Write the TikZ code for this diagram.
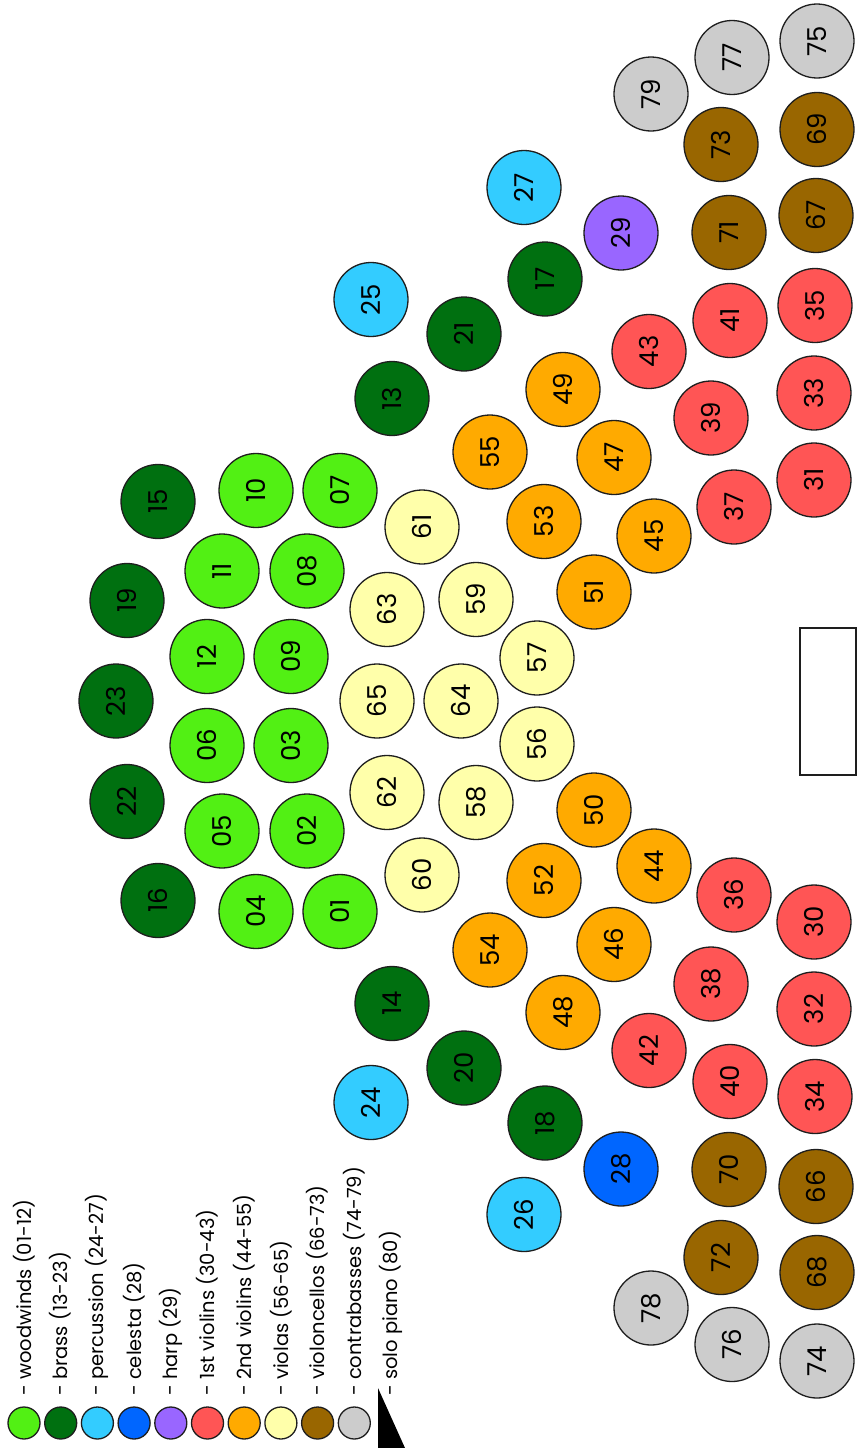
\documentclass[tikz,border=0pt]{standalone}
\usepackage{fontspec}
\setmainfont{Poppins}
\definecolor{cww}{RGB}{82,240,20}
\definecolor{cbr}{RGB}{0,112,16}
\definecolor{cpc}{RGB}{51,204,255}
\definecolor{cce}{RGB}{0,102,255}
\definecolor{chp}{RGB}{153,102,255}
\definecolor{cva}{RGB}{255,85,85}
\definecolor{cvb}{RGB}{255,170,0}
\definecolor{cvl}{RGB}{255,255,170}
\definecolor{cvc}{RGB}{153,102,0}
\definecolor{ccb}{RGB}{204,204,204}
\definecolor{edge}{RGB}{30,30,30}
\begin{document}
\begin{tikzpicture}[x=1pt,y=-1pt,
  seat/.style={circle, draw=edge, line width=1.3pt, minimum size=74pt, inner sep=0pt,
    rotate=90, font=\fontsize{26}{26}\selectfont, text=black},
  legc/.style={circle, draw=edge, line width=1.3pt, minimum size=32pt, inner sep=0pt},
  legt/.style={rotate=90, anchor=west, inner sep=0pt, font=\fontsize{19.5}{20}\selectfont, text=black},
  ww/.style={fill=cww}, br/.style={fill=cbr}, pc/.style={fill=cpc}, ce/.style={fill=cce},
  hp/.style={fill=chp}, va/.style={fill=cva}, vb/.style={fill=cvb}, vl/.style={fill=cvl},
  vc/.style={fill=cvc}, cb/.style={fill=ccb}]
\useasboundingbox (0,0) rectangle (857,1448);
% seats
\foreach \n/\x/\y/\s in {
  01/340/911.5/ww, 02/307/831/ww, 03/291/745.5/ww, 04/256/911.5/ww, 05/222/831/ww, 06/207/745.5/ww,
  07/340/490.5/ww, 08/307/571/ww, 09/291/656.5/ww, 10/256/490.5/ww, 11/222/571/ww, 12/207/656.5/ww,
  13/392/398.5/br, 14/392/1003.5/br, 15/158/501.5/br, 16/158/900.5/br, 17/545/279/br, 18/545/1123/br,
  19/127/600.5/br, 20/464/1068/br, 21/464/334/br, 22/127/801.5/br, 23/116/701/br,
  24/371/1102.5/pc, 25/371/299.5/pc, 26/524/1214.5/pc, 27/524/187.5/pc,
  28/621/1169/ce, 29/621/233/hp,
  30/814/922/va, 31/814/480/va, 32/814/1009/va, 33/814/393/va, 34/815/1096.5/va, 35/815/305.5/va,
  36/734/895/va, 37/734/507/va, 38/711/984/va, 39/711/418/va, 40/730/1081.5/va, 41/730/320.5/va,
  42/649/1050.5/va, 43/649/351.5/va,
  44/654/866/vb, 45/654/536/vb, 46/614/944.5/vb, 47/614/457.5/vb, 48/563/1012.5/vb, 49/563/389.5/vb,
  50/594/810/vb, 51/594/592/vb, 52/544/880.5/vb, 53/544/521.5/vb, 54/490/950/vb, 55/490/452/vb,
  56/537/744/vl, 57/537/658/vl, 58/476/802.5/vl, 59/476/599.5/vl, 60/422/875/vl, 61/422/527/vl,
  62/387/792.5/vl, 63/387/609.5/vl, 64/461/701/vl, 65/377/701/vl,
  66/816/1186.5/vc, 67/816/215.5/vc, 68/817/1272.5/vc, 69/817/129.5/vc, 70/729/1169.5/vc,
  71/729/232.5/vc, 72/721/1257.5/vc, 73/721/144.5/vc,
  74/817/1361/cb, 75/817/41/cb, 76/732/1344.5/cb, 77/732/57.5/cb, 78/651/1308/cb, 79/651/94/cb}
  \node[seat,\s] (s\n) at (\x,\y) {\n};
% solo piano
\node[draw=edge, line width=1.3pt, minimum width=56pt, minimum height=147pt, inner sep=0pt] (piano) at (828,701.5) {};
% legend
\foreach \i/\s/\t in {0/ww/woodwinds (01-12), 1/br/brass (13-23), 2/pc/percussion (24-27),
  3/ce/celesta (28), 4/hp/harp (29), 5/va/1st violins (30-43), 6/vb/2nd violins (44-55),
  7/vl/violas (56-65), 8/vc/violoncellos (66-73), 9/cb/contrabasses (74-79)}{
  \node[legc,\s] (lc\i) at ({24+36.7*\i},1423) {};
  \node[legt] (lt\i) at ({24+36.7*\i},1396) {- \t};
}
\fill[black] (378,1388) -- (378,1448) -- (405,1448) -- cycle;
\node[legt] (lt10) at (391,1396) {- solo piano (80)};
\end{tikzpicture}
\end{document}
